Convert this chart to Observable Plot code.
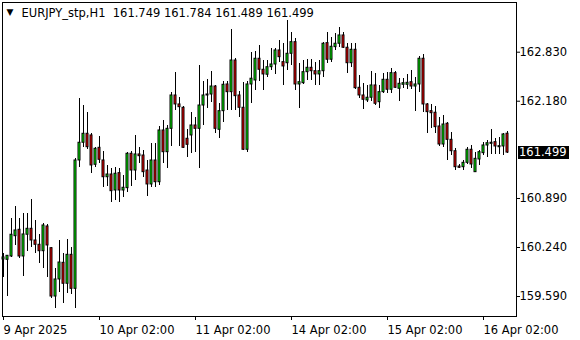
<!DOCTYPE html>
<html><head><meta charset="utf-8">
<script src="https://cdn.jsdelivr.net/npm/d3@7"></script>
<script src="https://cdn.jsdelivr.net/npm/@observablehq/plot@0.6"></script>
<style>
html,body{margin:0;padding:0;background:#fff;}
#chart{width:580px;height:340px;}
</style></head><body><div id="chart"></div>
<script>
const symbol = "EURJPY_stp,H1";
const open = [160.081,160.077,160.121,160.390,160.475,160.121,160.409,160.488,160.333,160.276,
160.191,160.519,160.231,159.590,159.816,160.037,159.759,160.143,159.692,161.394,
161.629,161.748,161.726,161.337,161.562,161.394,161.172,161.208,160.996,161.226,
160.996,161.027,161.483,161.261,161.474,161.460,161.261,161.076,161.394,161.106,
161.792,161.504,161.814,162.256,162.137,162.093,161.682,161.726,161.858,161.814,
162.123,162.256,162.269,162.375,161.801,162.048,162.402,162.300,162.720,162.256,
162.093,161.536,162.402,162.455,162.743,162.597,162.531,162.631,162.667,162.853,
162.698,162.684,162.809,162.963,162.402,162.419,162.565,162.623,162.578,162.535,
162.578,162.950,162.730,162.897,162.942,163.052,162.889,162.684,162.862,162.358,
162.256,162.190,162.226,162.389,162.167,162.300,162.464,162.332,162.552,162.345,
162.398,162.398,162.432,162.375,162.402,162.743,162.137,162.048,162.027,161.845,
161.606,161.881,161.668,161.517,161.314,161.305,161.363,161.536,161.239,161.407,
161.491,161.593,161.615,161.637,161.570,161.580,161.749];
const high = [160.161,160.134,160.629,160.784,160.629,160.687,160.695,160.877,160.598,160.409,
160.562,160.549,160.244,159.958,160.333,160.157,160.342,160.244,161.420,162.216,
162.123,162.027,161.748,161.570,161.712,161.517,161.328,161.284,161.297,161.284,
161.195,161.504,161.517,161.726,161.570,161.527,161.394,161.615,161.615,161.849,
161.924,161.858,162.300,162.565,162.226,162.110,161.801,162.035,161.960,162.654,
162.442,162.468,162.578,162.389,162.154,162.448,162.446,163.131,162.743,162.313,
162.432,162.446,162.830,162.844,162.919,162.720,162.720,162.875,162.883,162.985,
162.942,163.251,163.096,163.008,162.676,162.720,162.730,162.730,162.698,162.720,
162.963,163.096,163.025,163.074,163.162,163.096,162.942,162.942,162.942,162.521,
162.411,162.389,162.578,162.544,162.389,162.544,162.561,162.610,162.578,162.478,
162.478,162.535,162.588,162.491,162.773,162.800,162.146,162.137,162.110,161.968,
161.991,161.894,161.761,161.549,161.341,161.394,161.570,161.593,161.500,161.527,
161.637,161.659,161.805,161.682,161.703,161.748,161.784];
const low = [159.842,159.590,160.103,160.267,160.094,159.856,160.191,160.244,160.157,160.024,
159.958,159.838,159.560,159.427,159.643,159.493,159.634,159.613,159.427,161.305,
161.570,161.540,161.218,161.305,161.350,161.040,161.049,160.841,160.863,160.841,
160.907,160.974,161.049,161.129,161.350,161.172,160.917,161.032,161.040,161.062,
161.350,161.294,161.580,162.057,161.580,161.549,161.430,161.483,161.504,161.284,
161.858,162.080,162.167,161.756,161.682,161.902,162.057,162.057,162.057,161.968,
161.527,161.504,162.146,162.322,162.446,162.322,162.499,162.588,162.535,162.698,
162.389,162.588,162.654,162.322,162.080,162.402,162.455,162.455,162.389,162.389,
162.499,162.676,162.698,162.853,162.897,162.875,162.544,162.631,162.332,162.212,
162.066,162.167,162.180,162.123,162.080,162.279,162.276,162.279,162.345,162.180,
162.345,162.332,162.332,162.048,162.300,162.035,161.756,161.814,161.748,161.580,
161.560,161.394,161.460,161.261,161.284,161.261,161.341,161.292,161.235,161.328,
161.460,161.438,161.474,161.474,161.474,161.460,161.489];
const close = [160.108,160.130,160.409,160.466,160.121,160.413,160.488,160.333,160.276,160.191,
160.532,160.267,159.590,159.816,160.041,159.759,160.143,159.692,161.394,161.629,
161.748,161.570,161.328,161.549,161.403,161.172,161.208,160.987,161.218,160.996,
161.032,161.483,161.261,161.474,161.451,161.239,161.076,161.394,161.106,161.792,
161.504,161.814,162.256,162.137,162.101,161.562,161.602,161.858,161.814,162.123,
162.256,162.269,162.375,161.814,162.048,162.398,162.300,162.720,162.247,162.093,
161.536,162.402,162.478,162.743,162.597,162.535,162.631,162.667,162.853,162.764,
162.641,162.809,162.963,162.402,162.432,162.565,162.623,162.578,162.535,162.578,
162.942,162.730,162.902,162.942,163.052,162.889,162.684,162.862,162.353,162.256,
162.199,162.226,162.389,162.146,162.300,162.464,162.332,162.552,162.358,162.411,
162.419,162.424,162.375,162.402,162.743,162.137,162.035,162.021,161.836,161.606,
161.871,161.668,161.517,161.305,161.297,161.363,161.536,161.341,161.416,161.504,
161.593,161.623,161.629,161.580,161.584,161.739,161.499];
const timeTickBars = [0, 24, 48, 72, 96, 120];
const timeTickLabels = ["9 Apr 2025", "10 Apr 02:00", "11 Apr 02:00", "14 Apr 02:00", "15 Apr 02:00", "16 Apr 02:00"];
const priceTicks = [162.830, 162.180, 160.890, 160.240, 159.590];

const bars = open.map((o, i) => ({i, o, h: high[i], l: low[i], c: close[i], up: close[i] >= o}));
const last = bars[bars.length - 1];
const fmt = d3.format(".3f");
const title = symbol + "\u00a0\u00a0" + [last.o, last.h, last.l, last.c].map(fmt).join(" ");

const plot = Plot.plot({
  width: 580, height: 340,
  marginLeft: 2, marginRight: 64, marginTop: 2, marginBottom: 24,
  style: {fontFamily: "DejaVu Sans", fontSize: "11.5px", color: "#000", background: "#fff", overflow: "visible"},
  x: {type: "linear", domain: [-0.375, 128.125]},
  y: {domain: [159.325, 163.489]},
  marks: [
    Plot.ruleX(bars, {x: "i", y1: "l", y2: "h", stroke: "#000", strokeWidth: 1, dx: -0.5, shapeRendering: "crispEdges"}),
    Plot.rect(bars, {x1: d => d.i - 0.25, x2: d => d.i + 0.25, y1: "o", y2: "c", dx: -0.5,
      fill: d => d.up ? "#00ff00" : "#ff0000", stroke: "#000", strokeWidth: 1}),
    Plot.frame({stroke: "#000"}),
    Plot.axisY({anchor: "right", ticks: priceTicks, tickFormat: fmt, tickSize: 3, tickPadding: 0, textAnchor: "start", label: null}),
    Plot.axisX({anchor: "bottom", ticks: timeTickBars, tickFormat: i => timeTickLabels[timeTickBars.indexOf(i)],
      tickSize: 4, tickPadding: 5, textAnchor: "start", label: null, dx: -0.5}),
    Plot.text(["\u25BC"], {frameAnchor: "top-left", text: d => d, dx: 4, dy: 6, fontSize: 9, lineAnchor: "top"}),
    Plot.text([title], {frameAnchor: "top-left", text: d => d, dx: 19, dy: 6, lineAnchor: "top"})
  ]
});

// current price label on the right axis, placed by the y scale
const svg = d3.select(plot);
const yc = plot.scale("y").apply(last.c);
const xr = 580 - 64;
svg.append("rect").attr("x", xr + 2).attr("y", Math.round(yc) - 6).attr("width", 51).attr("height", 13).attr("fill", "#000");
svg.append("text").attr("x", xr + 3).attr("y", Math.round(yc)).attr("dy", "0.36em")
  .attr("text-anchor", "start").attr("fill", "#fff")
  .attr("font-family", "DejaVu Sans").attr("font-size", "11.5px").text(fmt(last.c));

document.getElementById("chart").appendChild(plot);
</script></body></html>
